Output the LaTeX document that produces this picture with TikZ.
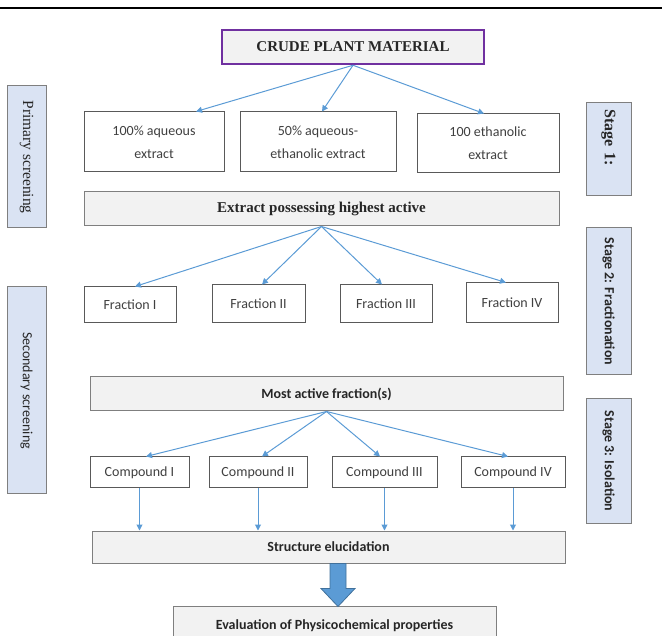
\documentclass[tikz,border=0pt]{standalone}
\usepackage{fontspec}
\setmainfont{Liberation Serif}
\setsansfont{Carlito}
\usepackage{xcolor}
\usetikzlibrary{arrows.meta,positioning,calc}
\definecolor{flowblue}{HTML}{5B9BD5}
\definecolor{flowbluedk}{HTML}{41719C}
\definecolor{boxgray}{HTML}{F2F2F2}
\definecolor{edgegray}{HTML}{7F7F7F}
\definecolor{sidefill}{HTML}{DAE3F3}
\definecolor{plum}{HTML}{7030A0}
\definecolor{txtgray}{HTML}{404040}

\begin{document}
\begin{tikzpicture}[x=1pt, y=-1pt,
    font=\sffamily\fontsize{14}{23}\selectfont,
    plain/.style={draw=black!65, line width=1pt, fill=white, align=center,
                  inner sep=2pt, text=txtgray},
    bar/.style={draw=edgegray, line width=1pt, fill=boxgray, inner sep=2pt,
                text=black!85, font=\sffamily\bfseries\fontsize{14}{17}\selectfont},
    serifbar/.style={bar, font=\rmfamily\bfseries\fontsize{15}{17}\selectfont},
    crudebox/.style={draw=plum, line width=2.5pt, fill=boxgray, inner sep=2pt,
                     text=black!85, font=\rmfamily\bfseries\fontsize{15}{17}\selectfont},
    side/.style={draw=edgegray, line width=1pt, fill=sidefill, rotate=-90,
                 inner sep=2pt, text=black!85},
    arr/.style={-{Triangle[length=6pt,width=6pt]}, draw=flowblue, line width=1pt},
    fat/.style={fill=flowblue, draw=flowbluedk, line width=0.8pt, line join=miter},
  ]
  \useasboundingbox (0,0) rectangle (662,636);
  \draw[line width=2.5pt] (0,8) -- (662,8);

  \node[crudebox, minimum width=262pt, minimum height=34pt] (crude) at (353,47) {CRUDE PLANT MATERIAL};

  \node[plain, minimum width=140pt, minimum height=60pt] (aq) at (154,142) {100\% aqueous\\extract};
  \node[plain, minimum width=156pt, minimum height=60pt] (mix) at (318,142) {50\% aqueous-\\ethanolic extract};
  \node[plain, minimum width=142pt, minimum height=59pt] (eth) at (488,143.5) {100 ethanolic\\extract};

  \node[serifbar, minimum width=475pt, minimum height=34pt] (best) at (321.5,209) {Extract possessing highest active};

  \node[plain, minimum width=92pt, minimum height=36pt] (fr1) at (130,305) {Fraction I};
  \node[plain, minimum width=93pt, minimum height=38pt] (fr2) at (258.5,304) {Fraction II};
  \node[plain, minimum width=92pt, minimum height=38pt] (fr3) at (386,304) {Fraction III};
  \node[plain, minimum width=92pt, minimum height=40pt] (fr4) at (512,303) {Fraction IV};

  \node[bar, minimum width=473pt, minimum height=34pt] (most) at (326.5,394) {Most active fraction(s)};

  \node[plain, minimum width=99pt, minimum height=31pt] (cp1) at (139.5,472.5) {Compound I};
  \node[plain, minimum width=98pt, minimum height=31pt] (cp2) at (258,472.5) {Compound II};
  \node[plain, minimum width=105pt, minimum height=31pt] (cp3) at (384.5,472.5) {Compound III};
  \node[plain, minimum width=104pt, minimum height=31pt] (cp4) at (513,472.5) {Compound IV};

  \node[bar, minimum width=473pt, minimum height=32pt] (struct) at (328.5,547) {Structure elucidation};
  \node[bar, minimum width=323pt, minimum height=40pt] (eval) at (334.5,626) {Evaluation of Physicochemical properties};

  \node[side, minimum width=142pt, minimum height=39pt,
        font=\rmfamily\fontsize{15.5}{18}\selectfont] (prim) at (26.5,157) {Primary screening};
  \node[side, minimum width=207pt, minimum height=39pt] (sec) at (26.5,390.5) {Secondary screening};
  \node[side, minimum width=93pt, minimum height=45pt, text width=86pt, align=left,
        font=\rmfamily\bfseries\fontsize{16}{18}\selectfont] (st1) at (608.5,149.5) {\hspace{3pt}Stage 1:};
  \node[side, minimum width=147pt, minimum height=45pt,
        font=\sffamily\bfseries\fontsize{14}{17}\selectfont] (st2) at (608.5,301.5) {Stage 2: Fractionation};
  \node[side, minimum width=124pt, minimum height=45pt,
        font=\sffamily\bfseries\fontsize{14}{17}\selectfont] (st3) at (608.5,461) {Stage 3: Isolation};

  \draw[arr] (crude.south) -- ([xshift=42pt]aq.north);
  \draw[arr] (crude.south) -- ([xshift=4pt]mix.north);
  \draw[arr] (crude.south) -- ([xshift=-4pt]eth.north);

  \draw[arr] (best.south) -- ([xshift=5pt]fr1.north);
  \draw[arr] (best.south) -- ([xshift=3.5pt]fr2.north);
  \draw[arr] (best.south) -- ([xshift=-4pt]fr3.north);
  \draw[arr] (best.south) -- ([xshift=-6pt]fr4.north);

  \draw[arr] (most.south) -- ([xshift=6.5pt]cp1.north);
  \draw[arr] (most.south) -- ([xshift=4pt]cp2.north);
  \draw[arr] (most.south) -- ([xshift=-4.5pt]cp3.north);
  \draw[arr] (most.south) -- ([xshift=-5pt]cp4.north);

  \draw[arr] (cp1.south) -- (cp1.south |- struct.north);
  \draw[arr] (cp2.south) -- (cp2.south |- struct.north);
  \draw[arr] (cp3.south) -- (cp3.south |- struct.north);
  \draw[arr] (cp4.south) -- (cp4.south |- struct.north);

  \coordinate (dn) at ([xshift=9.5pt]struct.south);
  \filldraw[fat] ([xshift=-8pt]dn) -- ++(0,25) -- ++(-9,0) -- ++(17,18)
        -- ++(17,-18) -- ++(-9,0) -- ++(0,-25) -- cycle;
\end{tikzpicture}
\end{document}
